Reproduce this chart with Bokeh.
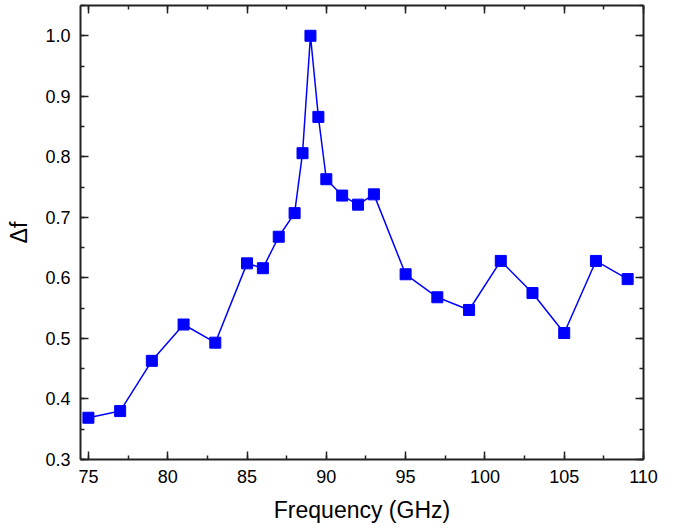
from bokeh.plotting import figure
from bokeh.models import LinearAxis, SingleIntervalTicker, Range1d, NumeralTickFormatter, CustomJSTickFormatter
from bokeh.embed import file_html
from bokeh.resources import INLINE

freq = [75, 77, 79, 81, 83, 85, 86, 87, 88, 88.5, 89, 89.5, 90, 91, 92, 93,
        95, 97, 99, 101, 103, 105, 107, 109]
delta_f = [0.369, 0.380, 0.463, 0.523, 0.493, 0.624, 0.616, 0.668, 0.707, 0.806,
           1.000, 0.866, 0.763, 0.736, 0.721, 0.738, 0.606, 0.568, 0.547, 0.628,
           0.575, 0.509, 0.628, 0.598]

FONT = "Liberation Sans"
AX = "#222222"

p = figure(frame_width=563, frame_height=454, output_backend="svg",
           toolbar_location=None, x_range=Range1d(74.5, 110), y_range=Range1d(0.3, 1.05),
           x_axis_label="Frequency (GHz)", y_axis_label="Δf",
           min_border_left=80, min_border_right=45, min_border_top=5, min_border_bottom=70)
p.grid.visible = False
p.outline_line_color = None
p.background_fill_color = "white"
p.border_fill_color = "white"

xax = p.below[0]
yax = p.left[0]

p.line(freq, delta_f, line_color="#0000FF", line_width=1.5)
p.scatter(freq, delta_f, marker="square", size=11, fill_color="#0000FF", line_color="#0000FF")

xax.ticker = SingleIntervalTicker(interval=5, num_minor_ticks=2)
yax.ticker = SingleIntervalTicker(interval=0.1, num_minor_ticks=2)
yax.formatter = NumeralTickFormatter(format="0.0")

blank = CustomJSTickFormatter(code="return ''")
top = LinearAxis(ticker=SingleIntervalTicker(interval=5, num_minor_ticks=2), formatter=blank)
right = LinearAxis(ticker=SingleIntervalTicker(interval=0.1, num_minor_ticks=2), formatter=blank)
for ax in (top, right):
    ax.major_label_standoff = 0
    ax.major_label_text_font_size = "1px"
p.add_layout(top, "above")
p.add_layout(right, "right")

for ax in (xax, yax, top, right):
    ax.axis_line_color = AX
    ax.axis_line_width = 2
    ax.major_tick_line_color = AX
    ax.minor_tick_line_color = AX
    ax.major_tick_line_width = 1.5
    ax.minor_tick_line_width = 1.5
    ax.major_tick_in = 8
    ax.major_tick_out = 0
    ax.minor_tick_in = 4
    ax.minor_tick_out = 0

for ax in (xax, yax):
    ax.major_label_text_font = FONT
    ax.major_label_text_font_size = "18px"
    ax.major_label_text_color = "black"
    ax.major_label_standoff = 10
    ax.axis_label_text_font = FONT
    ax.axis_label_text_font_size = "23px"
    ax.axis_label_text_font_style = "normal"
    ax.axis_label_text_color = "black"
xax.axis_label_standoff = 11
yax.axis_label_standoff = 10

open("out.html", "w").write(file_html(p, INLINE))
